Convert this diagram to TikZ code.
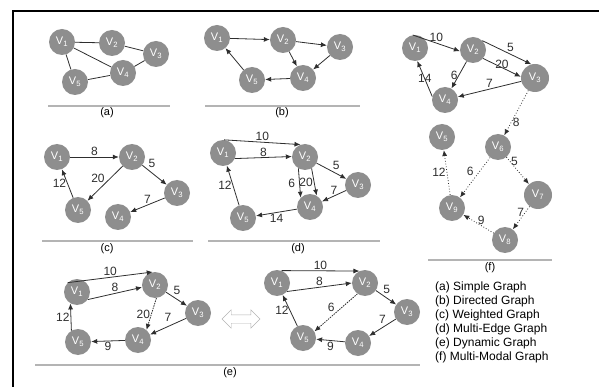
\documentclass[tikz,border=0pt]{standalone}
\usepackage{fontspec}
\setmainfont{Liberation Sans}
\usetikzlibrary{arrows.meta,shapes.arrows}
\definecolor{vgray}{HTML}{8E8E8E}
\definecolor{edgec}{HTML}{2E2E2E}
\definecolor{rulec}{HTML}{B4B4B4}
\newcommand\vname[1]{V\textsubscript{#1}}

\begin{document}
\begin{tikzpicture}[x=1pt,y=-1pt,
    vtx/.style={circle,fill=vgray,text=white,minimum size=26pt,inner sep=0pt,font=\fontsize{11}{11}\selectfont},
    bigvtx/.style={vtx,minimum size=28pt},
    edgeline/.style={draw=edgec,line width=0.8pt},
    arr/.style={edgeline,-{Latex[length=6pt,width=5pt]}},
    dyn/.style={arr,dash pattern=on 1.5pt off 1pt},
    modal/.style={arr,dotted},
    lbl/.style={font=\fontsize{12}{12}\selectfont,text=edgec,inner sep=1pt},
    sep/.style={draw=rulec,line width=1.4pt},
    capt/.style={font=\fontsize{11}{11}\selectfont}]
\useasboundingbox (0,0) rectangle (599,387);
\draw[line width=2pt] (13,387) -- (13,11) -- (599,11);

\node[vtx] (a1) at (62,42) {\vname1};
\node[vtx] (a2) at (112,43) {\vname2};
\node[vtx] (a3) at (156,54) {\vname3};
\node[vtx] (a4) at (123,73) {\vname4};
\node[vtx] (a5) at (75,82) {\vname5};
\path (a1) edge[edgeline] (a2);
\path (a2) edge[edgeline] (a3);
\path (a1) edge[edgeline] (a4);
\path (a1) edge[edgeline] (a5);
\path (a5) edge[edgeline] (a4);
\path (a4) edge[edgeline] (a3);
\coordinate (sa1) at (48,106); \coordinate (sa2) at (170,106);
\draw[sep] (sa1) -- (sa2);
\node[capt] (capa) at (107,113) {(a)};

\node[vtx] (b1) at (217,38) {\vname1};
\node[vtx] (b2) at (283,40) {\vname2};
\node[vtx] (b3) at (340,47) {\vname3};
\node[vtx] (b4) at (303,78) {\vname4};
\node[vtx] (b5) at (252,80) {\vname5};
\path (b1) edge[arr] (b2);
\path (b2) edge[arr] (b3);
\path (b2) edge[arr] (b4);
\path (b3) edge[arr] (b4);
\path (b4) edge[arr] (b5);
\path (b5) edge[arr] (b1);
\coordinate (sb1) at (205,106); \coordinate (sb2) at (360,106);
\draw[sep] (sb1) -- (sb2);
\node[capt] (capb) at (282,113) {(b)};

\node[vtx] (c1) at (57,157) {\vname1};
\node[vtx] (c2) at (132,157) {\vname2};
\node[vtx] (c3) at (177,193) {\vname3};
\node[vtx] (c4) at (118,217) {\vname4};
\node[vtx] (c5) at (78,210) {\vname5};
\path (c1) edge[arr] node[lbl,midway,above] {8} (c2);
\path (c2) edge[arr] node[lbl,pos=0.2,above right] {5} (c3);
\path (c2) edge[arr] node[lbl,midway,above left=-1pt] {20} (c5);
\path (c3) edge[arr] node[lbl,midway,above] {7} (c4);
\path (c5) edge[arr] node[lbl,midway,left] {12} (c1);
\coordinate (sc1) at (42,241); \coordinate (sc2) at (193,241);
\draw[sep] (sc1) -- (sc2);
\node[capt] (capc) at (107,249) {(c)};

\node[vtx] (d1) at (223,153) {\vname1};
\node[vtx] (d2) at (305,157) {\vname2};
\node[vtx] (d3) at (358,185) {\vname3};
\node[vtx] (d4) at (310,207) {\vname4};
\node[vtx] (d5) at (243,218) {\vname5};
\path (d1.85) edge[arr] node[lbl,midway,above] {10} (d2.110);
\path (d1.-25) edge[arr] node[lbl,midway,above] {8} (d2.178);
\path (d2) edge[arr] node[lbl,midway,above right] {5} (d3);
\path (d2.240) edge[arr] node[lbl,midway,left=3pt] {6} (d4.135);
\path (d2.-60) edge[arr] node[lbl,midway,left] {20} (d4.60);
\path (d3) edge[arr] node[lbl,midway,above] {7} (d4);
\path (d4) edge[arr] node[lbl,midway,below] {14} (d5);
\path (d5) edge[arr] node[lbl,midway,left] {12} (d1);
\coordinate (sd1) at (208,241); \coordinate (sd2) at (380,241);
\draw[sep] (sd1) -- (sd2);
\node[capt] (capd) at (298,249) {(d)};

\node[vtx] (e1) at (77,292) {\vname1};
\node[vtx] (e2) at (155,285) {\vname2};
\node[vtx] (e3) at (198,313) {\vname3};
\node[vtx] (e4) at (138,340) {\vname4};
\node[vtx] (e5) at (78,342) {\vname5};
\path (e1.135) edge[arr] node[lbl,midway,above] {10} (e2.100);
\path (e1.-35) edge[arr] node[lbl,midway,above] {8} (e2.190);
\path (e2) edge[arr] node[lbl,pos=0.3,above right] {5} (e3);
\path (e2.-84) edge[dyn] node[lbl,midway,left] {20} (e4.50);
\path (e3) edge[arr] node[lbl,midway,above=4pt] {7} (e4);
\path (e4) edge[arr] node[lbl,midway,below] {9} (e5);
\path (e5.120) edge[arr] node[lbl,midway,left] {12} (e1.-120);

\node[double arrow,draw=rulec,fill=white,inner sep=4pt,minimum height=38pt,double arrow head extend=5pt] (swap) at (241,319) {};

\node[vtx] (g1) at (277,283) {\vname1};
\node[vtx] (g2) at (365,283) {\vname2};
\node[vtx] (g3) at (407,312) {\vname3};
\node[vtx] (g4) at (358,343) {\vname4};
\node[vtx] (g5) at (303,338) {\vname5};
\path (g1.70) edge[arr] node[lbl,midway,above] {10} (g2.115);
\path (g1.-40) edge[arr] node[lbl,midway,above] {8} (g2.180);
\path (g2) edge[arr] node[lbl,pos=0.3,above right] {5} (g3);
\path (g2.235) edge[dyn] node[lbl,midway,above left] {6} (g5.30);
\path (g3) edge[arr] node[lbl,midway,above=3pt] {7} (g4);
\path (g4) edge[arr] node[lbl,midway,below] {9} (g5);
\path (g5) edge[arr] node[lbl,midway,left] {12} (g1);
\coordinate (se1) at (35,365); \coordinate (se2) at (420,365);
\draw[sep] (se1) -- (se2);
\node[capt] (cape) at (230,373) {(e)};

\node[vtx] (f1) at (415,48) {\vname1};
\node[vtx] (f2) at (473,50) {\vname2};
\node[bigvtx] (f3) at (535,78) {\vname3};
\node[vtx] (f4) at (445,100) {\vname4};
\node[vtx] (f5) at (442,137) {\vname5};
\node[vtx] (f6) at (498,147) {\vname6};
\node[bigvtx] (f7) at (538,195) {\vname7};
\node[vtx] (f8) at (505,240) {\vname8};
\node[vtx] (f9) at (452,208) {\vname9};
\path (f1.100) edge[arr] node[lbl,midway,above] {10} (f2.185);
\path (f2.45) edge[arr] node[lbl,midway,above right=-1pt] {5} (f3.105);
\path (f2.-40) edge[arr] node[lbl,midway,above=-2pt] {20} (f3.175);
\path (f2) edge[arr] node[lbl,midway,left] {6} (f4);
\path (f4.165) edge[arr] node[lbl,midway] {14} (f1.-80);
\path (f3) edge[arr] node[lbl,midway,above] {7} (f4);
\path (f3) edge[modal] node[lbl,pos=0.7,right] {8} (f6);
\path (f6) edge[modal] node[lbl,pos=0.15,right] {5} (f7);
\path (f6) edge[modal] node[lbl,midway,above left] {6} (f9);
\path (f9) edge[modal] node[lbl,midway,left] {12} (f5);
\path (f7) edge[modal] node[lbl,pos=0.25,left] {7} (f8);
\path (f8) edge[modal] node[lbl,midway,above right=-2pt] {9} (f9);
\coordinate (sf1) at (428,260); \coordinate (sf2) at (552,260);
\draw[sep] (sf1) -- (sf2);
\node[capt] (capf) at (490,268) {(f)};

\node[anchor=north west,align=left,inner sep=0pt,font=\fontsize{12}{14}\selectfont] (legend) at (435,282)
  {(a) Simple Graph\\(b) Directed Graph\\(c) Weighted Graph\\(d) Multi-Edge Graph\\(e) Dynamic Graph\\(f) Multi-Modal Graph};
\end{tikzpicture}
\end{document}
